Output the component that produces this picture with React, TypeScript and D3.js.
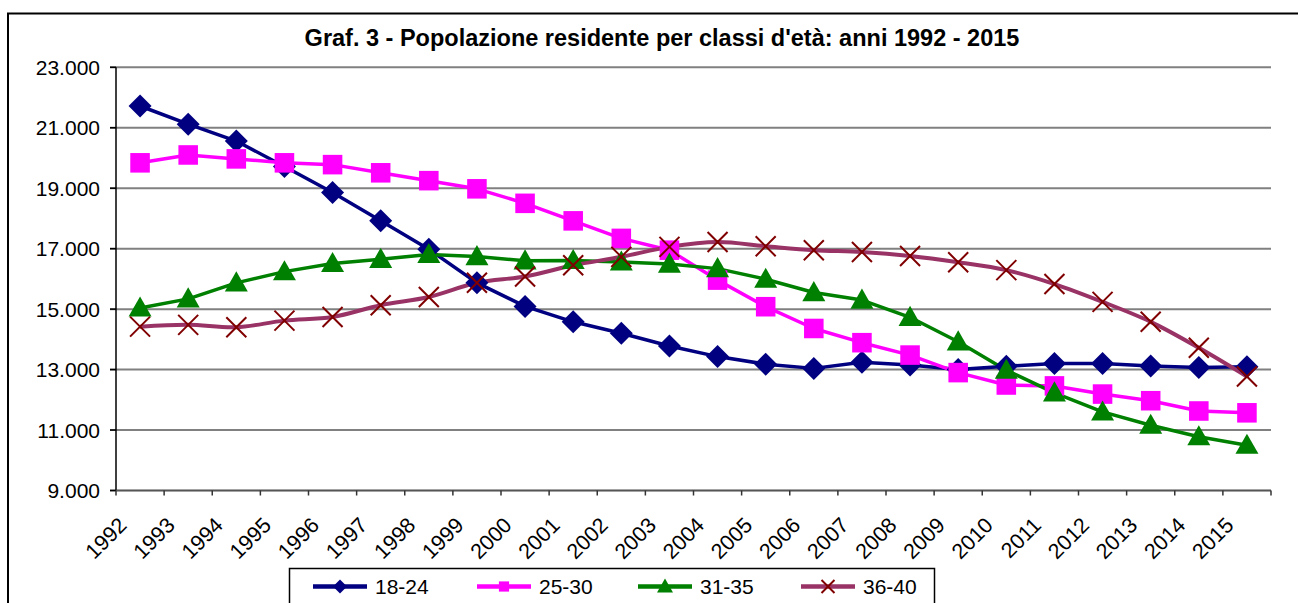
import React from 'react';
import * as d3 from 'd3';

const title = "Graf. 3 - Popolazione residente per classi d'età: anni 1992 - 2015";

const years = ['1992', '1993', '1994', '1995', '1996', '1997', '1998', '1999', '2000', '2001', '2002', '2003',
    '2004', '2005', '2006', '2007', '2008', '2009', '2010', '2011', '2012', '2013', '2014', '2015'];

const s1824 = [21720, 21120, 20560, 19720, 18860, 17920, 16980, 15870, 15090, 14580, 14200, 13780,
    13430, 13180, 13040, 13240, 13150, 13000, 13110, 13200, 13200, 13120, 13070, 13090];
const s2530 = [19840, 20100, 19970, 19840, 19780, 19510, 19250, 18980, 18500, 17920, 17340, 16950,
    15960, 15080, 14360, 13890, 13480, 12900, 12490, 12460, 12190, 11970, 11630, 11570];
const s3135 = [15040, 15340, 15870, 16240, 16510, 16650, 16810, 16740, 16600, 16610, 16560, 16490,
    16340, 15990, 15550, 15300, 14730, 13920, 12980, 12230, 11600, 11160, 10780, 10500];
const s3640 = [14420, 14480, 14400, 14620, 14740, 15130, 15400, 15870, 16080, 16450, 16730, 17060,
    17220, 17080, 16950, 16890, 16760, 16550, 16290, 15830, 15240, 14580, 13720, 12770];

const yTicks = [9000, 11000, 13000, 15000, 17000, 19000, 21000, 23000];

const series = [
    {name: '18-24', values: s1824, line: '#000080', marker: 'diamond', mcolor: '#000080', width: 3.5},
    {name: '25-30', values: s2530, line: '#FF00FF', marker: 'square', mcolor: '#FF00FF', width: 3.5},
    {name: '31-35', values: s3135, line: '#008000', marker: 'triangle', mcolor: '#008000', width: 3.5},
    {name: '36-40', values: s3640, line: '#993366', marker: 'x', mcolor: '#800000', width: 4}
];

const W = 1298, H = 603;
const plot = {left: 116, right: 1271, top: 67.3, bottom: 490.5};
const font = 'Arial, "Liberation Sans", sans-serif';

function Marker({type, x, y, s, color})
{
    const t = 'translate(' + x + ',' + y + ')';
    switch (type)
    {
        case 'diamond':
            return <path transform={t} d={`M0,${-s}L${s},0L0,${s}L${-s},0Z`} fill={color}/>;
        case 'square':
            return <rect x={x - s * 0.85} y={y - s * 0.85} width={s * 1.7} height={s * 1.7} fill={color}/>;
        case 'triangle':
            return <path transform={t} d={`M0,${-s}L${s},${s * 0.75}L${-s},${s * 0.75}Z`} fill={color}/>;
        case 'x':
            return <path transform={t} d={`M${-s},${-s}L${s},${s}M${s},${-s}L${-s},${s}`} stroke={color} strokeWidth={2} fill="none"/>;
        default:
            return null;
    }
}

export default function App()
{
    const x = d3.scaleBand().domain(years).range([plot.left, plot.right]);
    const cx = (d) => x(d) + x.bandwidth() / 2;
    const y = d3.scaleLinear().domain([9000, 23000]).range([plot.bottom, plot.top]);

    const lines = series.map(function(s, i)
    {
        const gen = d3.line()
            .x((d, j) => cx(years[j]))
            .y((d) => y(d))
            .curve(s.name === '36-40' ? d3.curveCatmullRom.alpha(0.5) : d3.curveLinear);
        return <path key={i} d={gen(s.values)} fill="none" stroke={s.line} strokeWidth={s.width} strokeLinejoin="round"/>;
    });

    const markers = series.map(function(s, i)
    {
        const size = {diamond: 11.5, square: 11.5, triangle: 11.5, x: 10}[s.marker];
        return (<g key={i}>
            {s.values.map((v, j) => <Marker key={j} type={s.marker} x={cx(years[j])} y={y(v)} s={size} color={s.mcolor}/>)}
        </g>);
    });

    const legendX = [313, 477, 638, 801];
    const legendSize = {diamond: 7, square: 6, triangle: 8, x: 6.5};

    return (
        <svg width={W} height={H} style={{position: 'absolute', left: 0, top: 0, display: 'block'}} fontFamily={font}>
            <rect x={0} y={0} width={W} height={H} fill="#fff"/>
            <rect x={8} y={13.5} width={W + 10} height={H + 10} fill="none" stroke="#000" strokeWidth={2}/>
            <text x={662} y={46} textAnchor="middle" fontSize={23.5} fontWeight="bold">{title}</text>

            {yTicks.map((t) => (
                <g key={t}>
                    <line x1={plot.left - 6} x2={plot.right} y1={y(t)} y2={y(t)} stroke="#808080" strokeWidth={2}/>
                    <line x1={plot.left - 6} x2={plot.left} y1={y(t)} y2={y(t)} stroke="#000" strokeWidth={1.5}/>
                    <text x={100} y={y(t) + 7.5} textAnchor="end" fontSize={21}>{d3.format(',')(t).replace(',', '.')}</text>
                </g>
            ))}
            <line x1={plot.left} x2={plot.left} y1={plot.top} y2={plot.bottom} stroke="#000" strokeWidth={1.5}/>
            <line x1={plot.left} x2={plot.right} y1={plot.bottom} y2={plot.bottom} stroke="#555" strokeWidth={1.5}/>
            {years.concat(['end']).map((d, i) => {
                const xx = plot.left + i * x.bandwidth();
                return <line key={i} x1={xx} x2={xx} y1={plot.bottom} y2={plot.bottom + 5} stroke="#333" strokeWidth={1.5}/>;
            })}
            {years.map((d) => (
                <text key={d} transform={'translate(' + (cx(d) - 12) + ',' + (plot.bottom + 36) + ') rotate(-45)'}
                      textAnchor="end" fontSize={21.5}>{d}</text>
            ))}

            {lines}
            {markers}

            <rect x={289.5} y={568.5} width={645} height={60} fill="#fff" stroke="#000" strokeWidth={1.5}/>
            {series.map((s, i) => (
                <g key={i}>
                    <line x1={legendX[i]} x2={legendX[i] + 54} y1={586.5} y2={586.5} stroke={s.line} strokeWidth={4.5}/>
                    <Marker type={s.marker} x={legendX[i] + 27} y={586.5} s={legendSize[s.marker]} color={s.mcolor}/>
                    <text x={legendX[i] + 62} y={594} fontSize={21}>{s.name}</text>
                </g>
            ))}
        </svg>
    );
}
